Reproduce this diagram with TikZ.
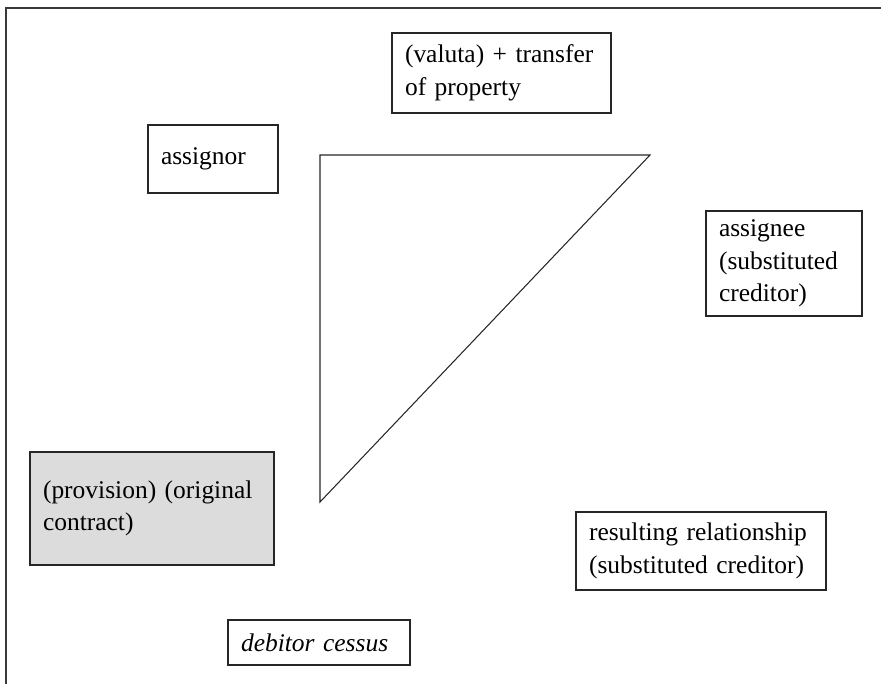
\documentclass[tikz,border=0pt]{standalone}
\usepackage{fontspec}
\setmainfont{Liberation Serif}
\definecolor{provGray}{HTML}{DCDCDC}
\definecolor{frameGray}{HTML}{3A3A3A}

\begin{document}
\begin{tikzpicture}[x=0.02cm,y=-0.02cm,font=\fontsize{14.5}{18.5}\selectfont]
  \tikzset{
    cbox/.style={draw=black!85,line width=0.85pt,align=left,inner xsep=0.26cm,inner ysep=2pt}
  }
  \useasboundingbox (0,0) rectangle (881,684);

  % outer frame (cut at right and bottom)
  \draw[frameGray,line width=1.1pt] (881,8) -- (6,8) -- (6,684);

  % boxes
  \node[cbox,minimum width=4.38cm,minimum height=1.6cm,text width=3.86cm] (valuta) at (501.5,73) {(valuta) + transfer\\of property};
  \node[cbox,minimum width=2.6cm,minimum height=1.36cm,text width=2.08cm] (assignor) at (213,159) {assignor};
  \node[cbox,minimum width=3.12cm,minimum height=2.1cm,text width=2.6cm] (assignee) at (784,263.5) {assignee\\(substituted\\creditor)};
  \node[cbox,fill=provGray,minimum width=4.88cm,minimum height=2.26cm,text width=4.36cm] (provision) at (152,508.5) {(provision) (original\\contract)};
  \node[cbox,minimum width=5.0cm,minimum height=1.56cm,text width=4.48cm] (result) at (701,551) {resulting relationship\\(substituted creditor)};
  \node[cbox,minimum width=3.64cm,minimum height=0.9cm,text width=3.12cm] (debitor) at (319,642.5) {\textit{debitor cessus}};

  % triangle
  \coordinate (tA) at (320,155);
  \coordinate (tB) at (650,155);
  \coordinate (tC) at (320,502);
  \draw[black!85,line width=0.6pt] (tA) -- (tB) -- (tC) -- cycle;
\end{tikzpicture}
\end{document}
